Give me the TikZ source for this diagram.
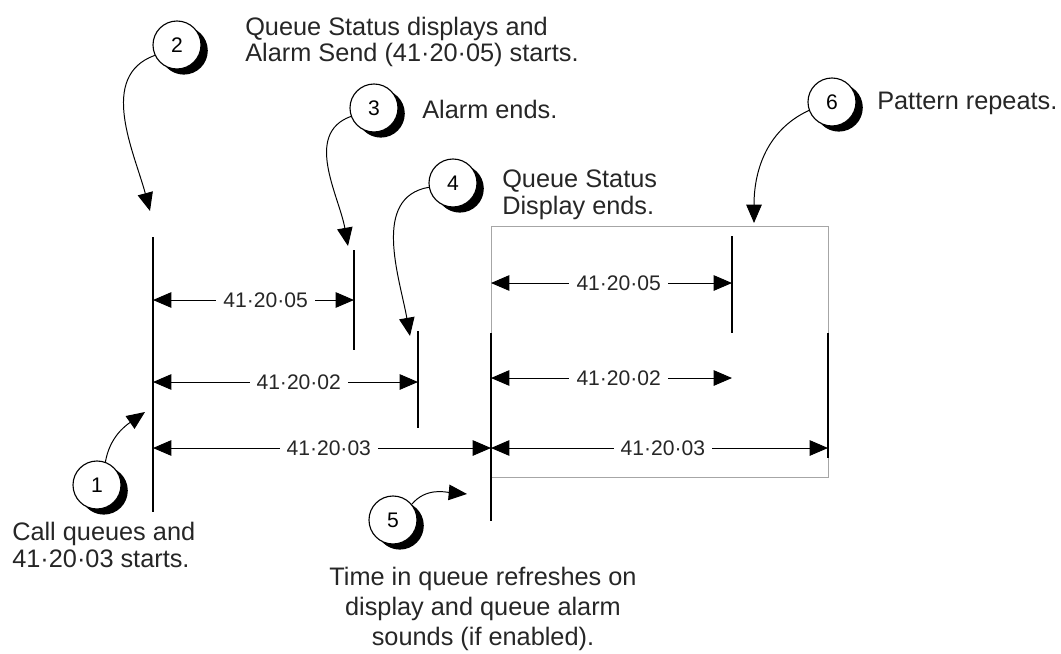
\documentclass[tikz,border=0pt]{standalone}
\usepackage{fontspec}
\setmainfont{Liberation Sans}
\usetikzlibrary{arrows.meta,calc,positioning,shadows}

\tikzset{
  callout/.style={circle, draw, line width=0.8pt, fill=white, minimum size=1.2cm,
    inner sep=0pt, font=\fontsize{15}{15}\selectfont,
    drop shadow={shadow xshift=0.17cm, shadow yshift=-0.14cm, fill=black, opacity=1}},
  note/.style={align=left, inner sep=0pt, text=black!85, font=\fontsize{18}{19}\selectfont},
  bar/.style={line width=1pt},
  dimline/.style={line width=0.7pt,
    {Triangle[length=13pt,width=11pt]}-{Triangle[length=13pt,width=11pt]}},
  dimlbl/.style={fill=white, inner sep=5pt, text=black!85, font=\fontsize{15}{15}\selectfont},
  pointer/.style={line width=0.7pt, -{Triangle[length=13pt,width=11pt]}},
}

\begin{document}
\begin{tikzpicture}[x=0.025cm, y=-0.025cm]
  \useasboundingbox (0,0) rectangle (1061,653);

  % repeated cycle
  \draw[gray!70, line width=0.6pt] (491,226) rectangle (828,477);

  % time marks
  \draw[bar] (153,237) -- (153,512);
  \draw[bar] (354,250) -- (354,350);
  \draw[bar] (418,331) -- (418,428);
  \draw[bar] (491,333) -- (491,521);
  \draw[bar] (732,236) -- (732,333);
  \draw[bar] (828,333) -- (828,458);

  \coordinate (s05) at (153,300); \coordinate (e05) at (354,300);
  \coordinate (s02) at (153,382); \coordinate (e02) at (418,382);
  \coordinate (s03) at (153,448); \coordinate (e03) at (491,448);
  \coordinate (r05) at (491,283); \coordinate (q05) at (732,283);
  \coordinate (r02) at (491,378); \coordinate (q02) at (732,378);
  \coordinate (r03) at (491,448); \coordinate (q03) at (828,448);

  \draw[dimline] (s05) -- node[dimlbl, pos=.56] {41·20·05} (e05);
  \draw[dimline] (s02) -- node[dimlbl, pos=.55] {41·20·02} (e02);
  \draw[dimline] (s03) -- node[dimlbl, pos=.52] {41·20·03} (e03);
  \draw[dimline] (r05) -- node[dimlbl, pos=.53] {41·20·05} (q05);
  \draw[dimline] (r02) -- node[dimlbl, pos=.53] {41·20·02} (q02);
  \draw[dimline] (r03) -- node[dimlbl, pos=.51] {41·20·03} (q03);

  % numbered callouts
  \node[callout] (n1) at (97,485) {1};
  \node[callout] (n2) at (177,45) {2};
  \node[callout] (n3) at (374,108) {3};
  \node[callout] (n4) at (453,183) {4};
  \node[callout] (n5) at (393,520) {5};
  \node[callout] (n6) at (832,102) {6};

  \coordinate (t1) at (145,412);
  \coordinate (t2) at (150,211);
  \coordinate (t3) at (348,246);
  \coordinate (t4) at (410,336);
  \coordinate (t5) at (467,494);
  \coordinate (t6) at (754,223);

  \draw[pointer] (n1.70) to[out=80, in=215] (t1);
  \draw[pointer] (n2.205) to[out=200, in=105] (t2);
  \draw[pointer] (n3.200) to[out=200, in=100] (t3);
  \draw[pointer] (n4.190) to[out=190, in=100] (t4);
  \draw[pointer] (n5.40) to[out=50, in=175] (t5);
  \draw[pointer] (n6.200) to[out=205, in=90] (t6);

  % notes
  \node[note, anchor=west] (c2) at (245,42) {Queue Status displays and\\Alarm Send (41·20·05) starts.};
  \node[note, anchor=west] (c3) at (422,109) {Alarm ends.};
  \node[note, anchor=west] (c4) at (502,195) {Queue Status\\Display ends.};
  \node[note, anchor=west] (c6) at (877,103) {Pattern repeats.};
  \node[note, anchor=west] (c1) at (12,545) {Call queues and\\41·20·03 starts.};
  \node[note, align=center, font=\fontsize{18}{21.5}\selectfont] (c5) at (483,609)
    {Time in queue refreshes on\\display and queue alarm\\sounds (if enabled).};
\end{tikzpicture}
\end{document}
